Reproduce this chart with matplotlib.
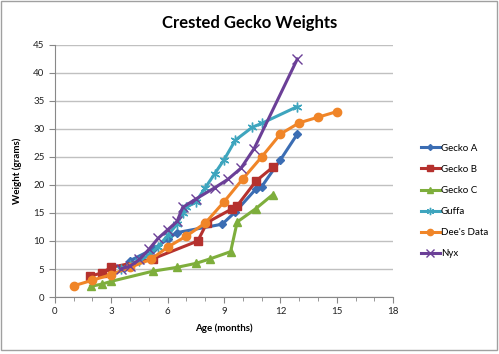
import matplotlib
matplotlib.use("Agg")
import matplotlib.pyplot as plt
from matplotlib.patches import Rectangle

plt.rcParams['font.family'] = ['Lato', 'DejaVu Sans']

# data (months, grams)
gecko_a_x = [4.0, 5.2, 6.0, 6.5, 8.9, 9.6, 10.7, 11.0, 12.0, 12.9]
gecko_a_y = [6.5, 8.5, 10.3, 11.5, 13.0, 15.2, 19.3, 19.7, 24.5, 29.1]

gecko_b_x = [1.85, 2.5, 3.0, 5.2, 7.6, 8.1, 9.4, 9.7, 10.7, 11.6]
gecko_b_y = [3.7, 4.3, 5.3, 6.8, 10.0, 13.3, 15.7, 16.3, 20.7, 23.2]

gecko_c_x = [1.9, 2.5, 3.0, 5.2, 6.5, 7.5, 8.25, 9.35, 9.7, 10.7, 11.6]
gecko_c_y = [1.9, 2.3, 2.8, 4.6, 5.3, 6.0, 6.8, 8.1, 13.4, 15.8, 18.3]

guffa_x = [3.5, 4.0, 4.5, 5.0, 5.5, 6.0, 6.5, 6.8, 7.0, 7.5, 8.0, 8.5, 9.0, 9.6, 10.5, 11.0, 12.9]
guffa_y = [5.0, 5.8, 6.5, 7.5, 9.0, 11.0, 13.0, 15.0, 16.0, 17.0, 19.5, 22.0, 24.5, 28.0, 30.3, 31.0, 34.0]

dees_x = [1, 2, 3, 4, 5.1, 6, 7, 8, 9, 10, 11, 12, 13, 14, 15]
dees_y = [2.0, 3.0, 4.0, 5.3, 6.7, 8.9, 10.9, 13.2, 17.0, 21.1, 25.0, 29.1, 31.1, 32.1, 33.1]

nyx_x = [3.5, 4.0, 4.5, 5.0, 5.5, 6.0, 6.5, 6.8, 7.5, 8.5, 9.2, 9.9, 10.6, 12.9]
nyx_y = [5.0, 5.5, 6.7, 8.5, 10.5, 12.0, 13.5, 16.0, 17.5, 19.5, 21.0, 23.0, 26.5, 42.5]

series = [
    ("Gecko A", gecko_a_x, gecko_a_y, "#3B6DB3", "D", 4),
    ("Gecko B", gecko_b_x, gecko_b_y, "#B5312E", "s", 6),
    ("Gecko C", gecko_c_x, gecko_c_y, "#7EAE3C", "^", 6),
    ("Guffa", guffa_x, guffa_y, "#3EA5BE", (6, 2, 0), 7),
    ("Dee's Data", dees_x, dees_y, "#F08528", "o", 6),
    ("Nyx", nyx_x, nyx_y, "#6B3F97", "x", 7),
]

fig = plt.figure(figsize=(4.99, 3.54), dpi=100)
fig.patches.append(Rectangle((0.002, 0.012), 0.994, 0.984, transform=fig.transFigure,
                             fill=False, edgecolor="#a0a0a0", linewidth=1.0))
ax = fig.add_axes([0.110, 0.161, 0.678, 0.712])

for name, xs, ys, col, mk, ms in series:
    ax.plot(xs, ys, color=col, lw=2.2, marker=mk, ms=ms, mec=col, mfc=col,
            mew=1.0, label=name, solid_joinstyle="round")

ax.set_xlim(0, 18)
ax.set_ylim(0, 45)
ax.set_xticks(range(0, 19, 3))
ax.set_xticks(range(0, 19), minor=True)
ax.set_yticks(range(0, 46, 5))
ax.yaxis.grid(True, color="#c0c0c0", lw=1.0)
ax.set_axisbelow(True)
for s in ["top", "right"]:
    ax.spines[s].set_visible(False)
for s in ["left", "bottom"]:
    ax.spines[s].set_color("#888888")
ax.tick_params(axis="both", which="both", direction="out", color="#888888",
               labelsize=7, labelcolor="#222222", length=4)
ax.tick_params(axis="x", which="minor", length=3)
ax.set_xlabel("Age (months)", fontsize=7, fontweight="bold", labelpad=5)
ax.set_ylabel("Weight (grams)", fontsize=7, fontweight="bold", labelpad=8)
fig.text(0.5, 0.935, "Crested Gecko Weights", ha="center", va="center",
         fontsize=12, fontweight="bold")

fig.legend(loc="upper left", bbox_to_anchor=(0.835, 0.605), frameon=False,
           fontsize=7, handlelength=2.0, handletextpad=0.1, labelspacing=1.25,
           borderaxespad=0, markerscale=0.75)

plt.savefig("out.png", dpi=100)
